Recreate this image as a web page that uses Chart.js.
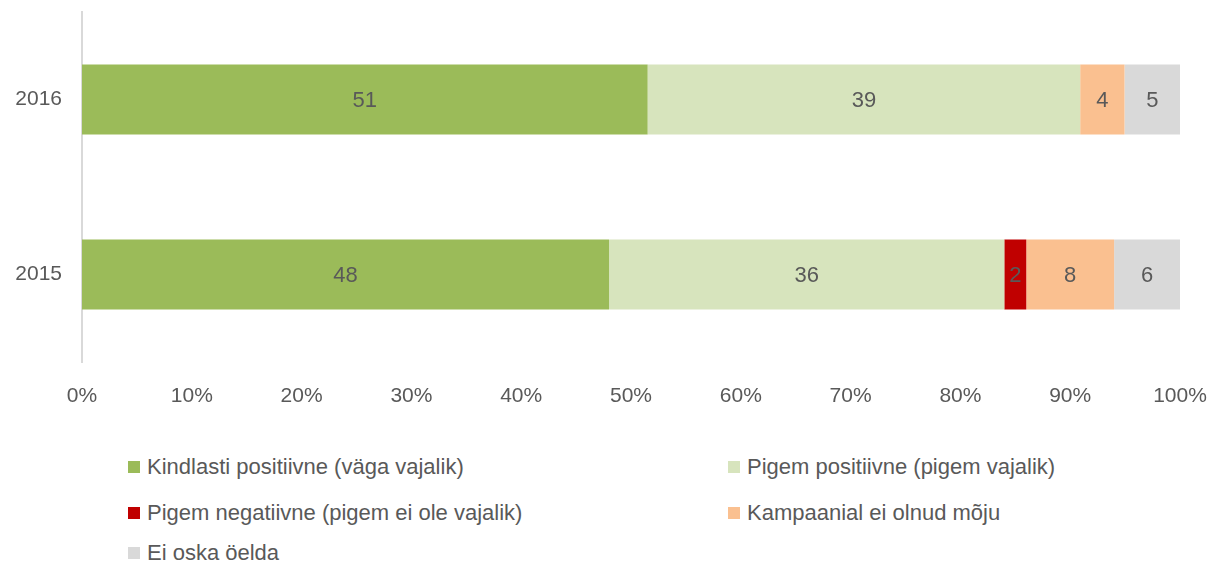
<!DOCTYPE html>
<html>
<head>
<meta charset="utf-8">
<script src="https://cdn.jsdelivr.net/npm/chart.js@4.4.1/dist/chart.umd.min.js"></script>
<style>
  body { margin:0; background:#fff; font-family:'Liberation Sans', Arial, sans-serif; }
  #wrap { position:relative; width:1218px; height:570px; }
  #chartBox { position:absolute; left:0; top:0; width:1218px; height:420px; }
  .leg { position:absolute; display:flex; align-items:center; font-size:22px; color:#595959; white-space:nowrap; }
  .leg i { display:inline-block; width:12px; height:12px; margin-right:7px; }
</style>
</head>
<body>
<div id="wrap">
  <div id="chartBox"><canvas id="c"></canvas></div>
  <div id="legend"></div>
</div>
<script>
// data
const years = ['2016', '2015'];
const seriesNames = [
  'Kindlasti positiivne (väga vajalik)',
  'Pigem positiivne (pigem vajalik)',
  'Pigem negatiivne (pigem ei ole vajalik)',
  'Kampaanial ei olnud mõju',
  'Ei oska öelda'
];
const kindlasti = [51, 48];
const pigemPos = [39, 36];
const pigemNeg = [0, 2];
const mojuta = [4, 8];
const eiOska = [5, 6];
const colors = ['#9BBB59', '#D7E4BD', '#C00000', '#FAC090', '#D9D9D9'];

const raw = [kindlasti, pigemPos, pigemNeg, mojuta, eiOska];
// totals per year, for 100% stacking
const totals = years.map((_, i) => raw.reduce((s, arr) => s + arr[i], 0));

const TXT = '#595959';
const FONT = "'Liberation Sans', Arial, sans-serif";

const labelPlugin = {
  id: 'barLabels',
  afterDatasetsDraw(chart){
    const ctx = chart.ctx;
    ctx.save();
    ctx.font = '22px ' + FONT;
    ctx.fillStyle = TXT;
    ctx.textAlign = 'center';
    ctx.textBaseline = 'middle';
    chart.data.datasets.forEach((ds, di) => {
      chart.getDatasetMeta(di).data.forEach((bar, i) => {
        const v = ds.rawValues[i];
        if(!v) return;
        const p = bar.getProps(['x', 'y', 'base'], true);
        ctx.fillText(String(v), (p.x + p.base) / 2, p.y + 1);
      });
    });
    ctx.restore();
  }
};

const noPad = s => { s.paddingTop = 0; s.paddingBottom = 0; s.paddingLeft = 0; s.paddingRight = 0; };

new Chart(document.getElementById('c'), {
  type: 'bar',
  data: {
    labels: years,
    datasets: raw.map((arr, k) => ({
      label: seriesNames[k],
      data: arr.map((v, i) => v / totals[i] * 100),
      rawValues: arr,
      backgroundColor: colors[k],
      barPercentage: 0.8,
      categoryPercentage: 0.5
    }))
  },
  options: {
    indexAxis: 'y',
    responsive: true,
    maintainAspectRatio: false,
    animation: false,
    layout: { padding: { left: 0, right: 38, top: 12, bottom: 0 } },
    plugins: { legend: { display: false }, tooltip: { enabled: false } },
    scales: {
      x: {
        stacked: true, min: 0, max: 100,
        grid: { display: false, drawTicks: false },
        border: { display: false },
        ticks: { stepSize: 10, padding: 22, color: TXT, font: { size: 21, family: FONT }, callback: v => v + '%' },
        afterFit: s => { noPad(s); s.height = 58; }
      },
      y: {
        stacked: true,
        grid: { display: false, drawTicks: false },
        border: { display: true, color: '#D9D9D9', width: 2 },
        ticks: { padding: 20, color: TXT, font: { size: 21, family: FONT } },
        afterFit: s => { noPad(s); s.width = 82; }
      }
    }
  },
  plugins: [labelPlugin]
});

// legend, two columns
const legPos = [[128, 467], [728, 467], [128, 513], [728, 513], [128, 553]];
const legend = document.getElementById('legend');
seriesNames.forEach((n, k) => {
  const d = document.createElement('div');
  d.className = 'leg';
  d.style.left = legPos[k][0] + 'px';
  d.style.top = (legPos[k][1] - 13) + 'px';
  d.innerHTML = `<i style="background:${colors[k]}"></i>${n}`;
  legend.appendChild(d);
});
</script>
</body>
</html>
